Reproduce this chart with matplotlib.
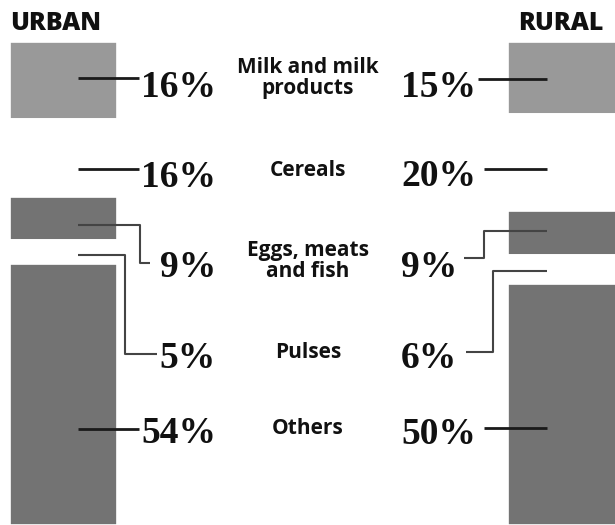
import matplotlib
matplotlib.use("Agg")
import matplotlib.pyplot as plt
import matplotlib.transforms as mtransforms

# data
categories = ["Milk and milk\nproducts", "Cereals", "Eggs, meats\nand fish", "Pulses", "Others"]
urban = [16, 16, 9, 5, 54]
rural = [15, 20, 9, 6, 50]
seg_colors = ["#999999", "white", "#737373", "white", "#737373"]

W, H = 615, 525
TOP, PX_PER_PCT = 42, 4.83

fig = plt.figure(figsize=(W / 100, H / 100), dpi=100)
ax = fig.add_axes([0, 0, 1, 1])
ax.set_xlim(0, W)
ax.set_ylim((H - TOP) / PX_PER_PCT, -TOP / PX_PER_PCT)
ax.axis("off")

# pixel layout transform (origin top-left)
pix = mtransforms.Affine2D().scale(1 / W, -1 / H).translate(0, 1) + ax.transAxes


def stack(values, x, width):
    bottom = 0
    for v, c in zip(values, seg_colors):
        ax.bar(x, v, width=width, bottom=bottom, color=c, edgecolor="white",
               linewidth=1.2, align="center")
        bottom += v


stack(urban, 63.5, 107)
stack(rural, 566, 116)

sans = "Open Sans"
serif = "Liberation Serif"

ax.text(10, 24, "URBAN", transform=pix, fontsize=18, fontweight="heavy",
        family=sans, ha="left", va="center", color="#111")
ax.text(604, 24, "RURAL", transform=pix, fontsize=18, fontweight="heavy",
        family=sans, ha="right", va="center", color="#111")

# rows: label centre y, percent baselines
label_y = [78, 171, 261, 352, 428]
base_left = [97, 187, 277, 368, 443]
base_right = [97, 186, 277, 368, 444]

for cat, u, r, ly, bl, br in zip(categories, urban, rural, label_y, base_left, base_right):
    ax.text(308, ly, cat, transform=pix, fontsize=15, fontweight="bold",
            family=sans, ha="center", va="center", color="#111",
            linespacing=0.95)
    ax.text(216, bl, f"{u}%", transform=pix, fontsize=27, fontweight="bold",
            family=serif, ha="right", va="baseline", color="#111")
    ax.text(401, br, f"{r}%", transform=pix, fontsize=27, fontweight="bold",
            family=serif, ha="left", va="baseline", color="#111")

# leader lines (pixel layout)
straight = dict(color="#1a1a1a", lw=2.0, solid_capstyle="butt")
elbow = dict(color="#444444", lw=1.5, solid_capstyle="butt")

left_leaders = [
    ([78, 139], [78, 78], straight),
    ([78, 139], [169, 169], straight),
    ([78, 140, 140, 150], [225, 225, 263, 263], elbow),
    ([78, 125, 125, 157], [255, 255, 354, 354], elbow),
    ([78, 139], [429, 429], straight),
]
right_leaders = [
    ([478, 547], [79, 79], straight),
    ([484, 547], [169, 169], straight),
    ([547, 484, 484, 464], [231, 231, 258, 258], elbow),
    ([547, 493, 493, 466], [271, 271, 352, 352], elbow),
    ([484, 547], [428, 428], straight),
]
for xs, ys, st in left_leaders + right_leaders:
    ax.plot(xs, ys, transform=pix, **st)

fig.savefig("out.png", dpi=100)
